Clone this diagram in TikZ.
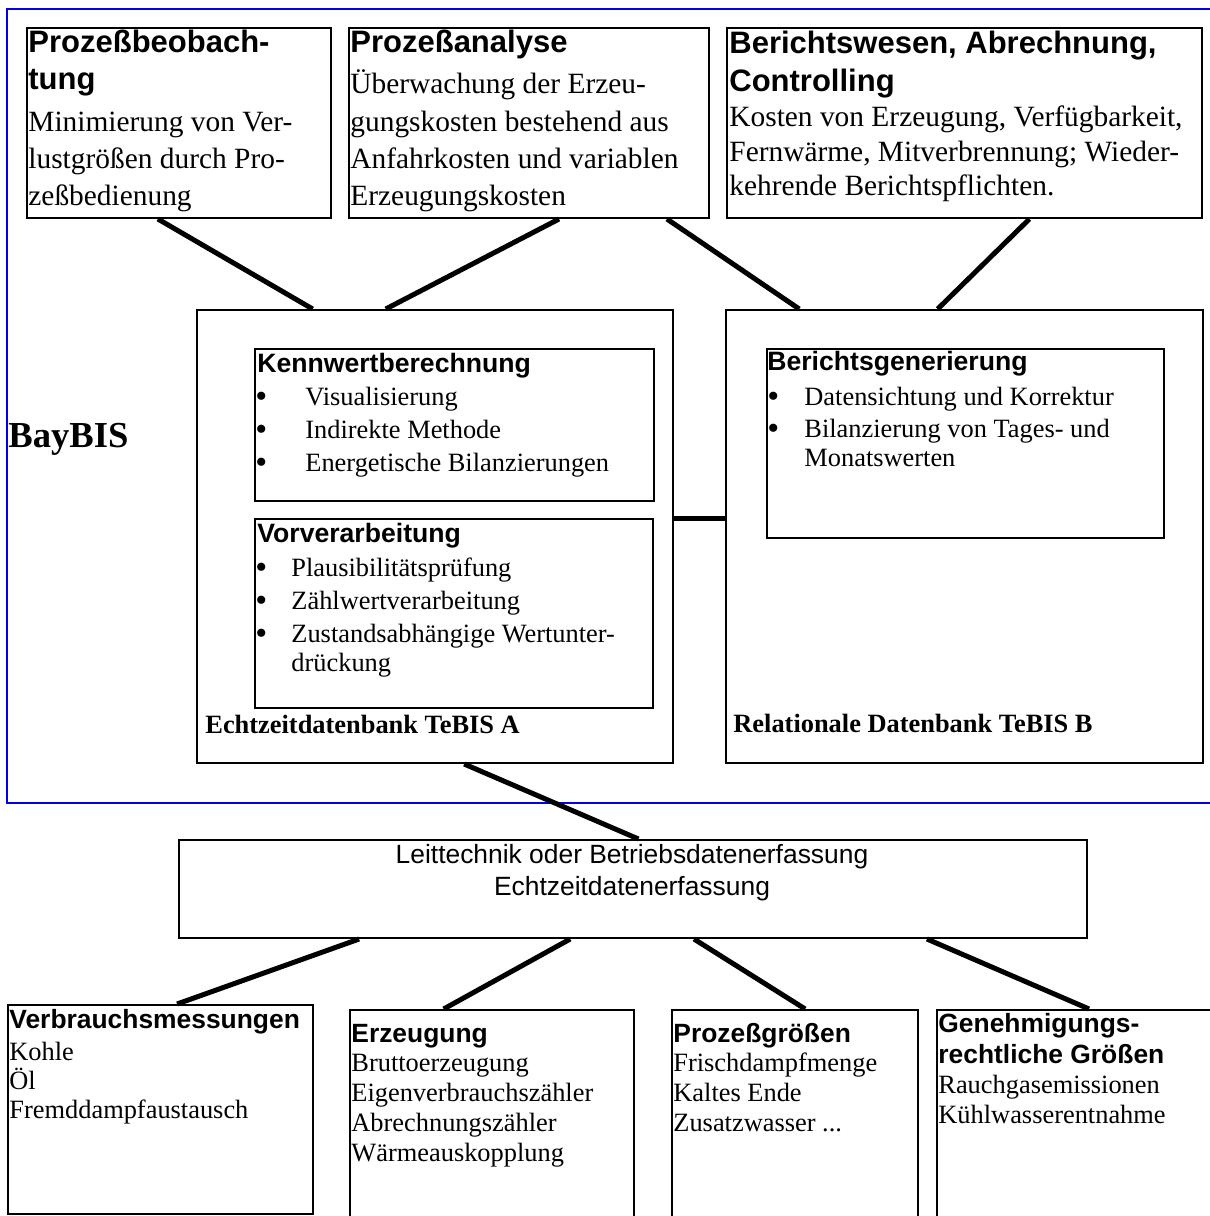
\documentclass[tikz,border=0pt]{standalone}
\usepackage{fontspec}
\setmainfont{Liberation Serif}
\newfontfamily\sansA{Liberation Sans}
\usetikzlibrary{calc}
\newcommand\myTH{\sansA\bfseries\fontsize{15.5}{18}\selectfont}
\newcommand\myTB{\rmfamily\fontsize{14.7}{17}\selectfont}
\newcommand\myIH{\sansA\bfseries\fontsize{13.3}{15}\selectfont}
\newcommand\myIB{\rmfamily\fontsize{13.2}{15}\selectfont}
\newcommand\myBul{\rmfamily\fontsize{17}{17}\selectfont}
\newcommand\myLB{\rmfamily\bfseries\fontsize{13.2}{15}\selectfont}
\newcommand\myBay{\rmfamily\bfseries\fontsize{18.3}{20}\selectfont}
\newcommand\myLT{\sansA\fontsize{13.2}{15}\selectfont}
\newcommand\myBH{\sansA\bfseries\fontsize{13.2}{15}\selectfont}
\newcommand\bx[5]{\node[boxst, minimum width={(#4-#2)*0.5pt}, minimum height={(#5-#3)*0.5pt}] (#1) at (#2,#3) {};}
\newcommand\tl[5]{\node[txt, font=#4] (#1) at (#2,#3) {#5};}
\begin{document}
\begin{tikzpicture}[x=0.5pt,y=-0.5pt,
 boxst/.style={draw, line width=1pt, rectangle, inner sep=0pt, anchor=north west},
 txt/.style={anchor=base west, inner sep=0pt},
 ctxt/.style={anchor=base, inner sep=0pt},
 conn/.style={line width=2.5pt},
 bayframe/.style={draw={rgb,255:red,0;green,0;blue,235}, line width=1.2pt}]
\useasboundingbox (0,0) rectangle (1210,1216);
\clip (0,0) rectangle (1210,1216);
\fill[white] (0,0) rectangle (1210,1216);
% BayBIS frame
\draw[bayframe] (7,9) rectangle (1220,803);
\tl{baybis}{8}{447}{\myBay}{BayBIS}
% top boxes
\bx{b1}{26}{27}{330}{217}
\bx{b2}{348}{27}{708}{217}
\bx{b3}{726}{27}{1201}{217}
% database boxes
\bx{A}{196}{309}{672}{762}
\bx{B}{725}{309}{1202}{762}
\bx{K}{254}{348}{653}{500}
\bx{Vv}{254}{518}{652}{707}
\bx{Bg}{766}{348}{1163}{537}
% acquisition
\bx{L}{178}{839}{1086}{937}
% bottom boxes
\bx{V}{7}{1004}{312}{1213}
\bx{E}{349}{1009}{633}{1240}
\bx{P}{671}{1009}{917}{1240}
\bx{G}{936}{1009}{1230}{1240}
% texts top
\tl{b1h1}{28}{52}{\myTH}{Prozeßbeobach-}
\tl{b1h2}{28}{89}{\myTH}{tung}
\tl{b1t1}{28}{131}{\myTB}{Minimierung von Ver-}
\tl{b1t2}{28}{168}{\myTB}{lustgrößen durch Pro-}
\tl{b1t3}{28}{205}{\myTB}{zeßbedienung}
\tl{b2h1}{350}{52}{\myTH}{Prozeßanalyse}
\tl{b2t1}{350}{93}{\myTB}{Überwachung der Erzeu-}
\tl{b2t2}{350}{131}{\myTB}{gungskosten bestehend aus}
\tl{b2t3}{350}{168}{\myTB}{Anfahrkosten und variablen}
\tl{b2t4}{350}{205}{\myTB}{Erzeugungskosten}
\tl{b3h1}{729}{53}{\myTH}{Berichtswesen, Abrechnung,}
\tl{b3h2}{729}{91}{\myTH}{Controlling}
\tl{b3t1}{729}{126}{\myTB}{Kosten von Erzeugung, Verfügbarkeit,}
\tl{b3t2}{729}{161}{\myTB}{Fernwärme, Mitverbrennung; Wieder-}
\tl{b3t3}{729}{195}{\myTB}{kehrende Berichtspflichten.}
% Kennwertberechnung
\tl{kh}{257}{372}{\myIH}{Kennwertberechnung}
\tl{kb1}{255}{407}{\myBul}{\textbullet}
\tl{kb2}{255}{440}{\myBul}{\textbullet}
\tl{kb3}{255}{473}{\myBul}{\textbullet}
\tl{kt1}{305}{405}{\myIB}{Visualisierung}
\tl{kt2}{305}{438}{\myIB}{Indirekte Methode}
\tl{kt3}{305}{471}{\myIB}{Energetische Bilanzierungen}
% Vorverarbeitung
\tl{vh}{257}{542}{\myIH}{Vorverarbeitung}
\tl{vb1}{255}{578}{\myBul}{\textbullet}
\tl{vb2}{255}{611}{\myBul}{\textbullet}
\tl{vb3}{255}{644}{\myBul}{\textbullet}
\tl{vt1}{291}{576}{\myIB}{Plausibilitätsprüfung}
\tl{vt2}{291}{609}{\myIB}{Zählwertverarbeitung}
\tl{vt3}{291}{642}{\myIB}{Zustandsabhängige Wertunter-}
\tl{vt4}{291}{671}{\myIB}{drückung}
% Berichtsgenerierung
\tl{bh}{767}{370}{\myIH}{Berichtsgenerierung}
\tl{bb1}{767}{407}{\myBul}{\textbullet}
\tl{bb2}{767}{439}{\myBul}{\textbullet}
\tl{bt1}{804}{405}{\myIB}{Datensichtung und Korrektur}
\tl{bt2}{804}{437}{\myIB}{Bilanzierung von Tages- und}
\tl{bt3}{804}{466}{\myIB}{Monatswerten}
% database labels
\tl{alab}{205}{733}{\myLB}{Echtzeitdatenbank TeBIS A}
\tl{blab}{733}{732}{\myLB}{Relationale Datenbank TeBIS B}
% Leittechnik
\node[ctxt, font=\myLT] (lt1) at (632,863) {Leittechnik oder Betriebsdatenerfassung};
\node[ctxt, font=\myLT] (lt2) at (632,895) {Echtzeitdatenerfassung};
% bottom texts
\tl{vmh}{9}{1028}{\myBH}{Verbrauchsmessungen}
\tl{vm1}{9}{1060}{\myIB}{Kohle}
\tl{vm2}{9}{1089}{\myIB}{Öl}
\tl{vm3}{9}{1118}{\myIB}{Fremddampfaustausch}
\tl{eh}{351}{1042}{\myBH}{Erzeugung}
\tl{e1}{351}{1071}{\myIB}{Bruttoerzeugung}
\tl{e2}{351}{1101}{\myIB}{Eigenverbrauchszähler}
\tl{e3}{351}{1131}{\myIB}{Abrechnungszähler}
\tl{e4}{351}{1161}{\myIB}{Wärmeauskopplung}
\tl{ph}{673}{1042}{\myBH}{Prozeßgrößen}
\tl{p1}{673}{1071}{\myIB}{Frischdampfmenge}
\tl{p2}{673}{1101}{\myIB}{Kaltes Ende}
\tl{p3}{673}{1131}{\myIB}{Zusatzwasser ...}
\tl{gh1}{938}{1032}{\myBH}{Genehmigungs-}
\tl{gh2}{938}{1063}{\myBH}{rechtliche Größen}
\tl{g1}{938}{1093}{\myIB}{Rauchgasemissionen}
\tl{g2}{938}{1123}{\myIB}{Kühlwasserentnahme}
% connectors
\draw[conn] ($(b1.south west)!0.431!(b1.south east)$) -- ($(A.north west)!0.244!(A.north east)$);
\draw[conn] ($(b2.south west)!0.583!(b2.south east)$) -- ($(A.north west)!0.397!(A.north east)$);
\draw[conn] ($(b2.south west)!0.881!(b2.south east)$) -- ($(B.north west)!0.155!(B.north east)$);
\draw[conn] ($(b3.south west)!0.636!(b3.south east)$) -- ($(B.north west)!0.444!(B.north east)$);
\coordinate (ab) at ($(A.north east)!0.461!(A.south east)$);
\draw[conn] (ab) -- (ab -| B.west);
\draw[conn] ($(A.south west)!0.561!(A.south east)$) -- ($(L.north west)!0.506!(L.north east)$);
\draw[conn] ($(L.south west)!0.199!(L.south east)$) -- ($(V.north west)!0.554!(V.north east)$);
\draw[conn] ($(L.south west)!0.431!(L.south east)$) -- ($(E.north west)!0.331!(E.north east)$);
\draw[conn] ($(L.south west)!0.567!(L.south east)$) -- ($(P.north west)!0.541!(P.north east)$);
\draw[conn] ($(L.south west)!0.823!(L.south east)$) -- ($(G.north west)!0.517!(G.north east)$);
\end{tikzpicture}
\end{document}
